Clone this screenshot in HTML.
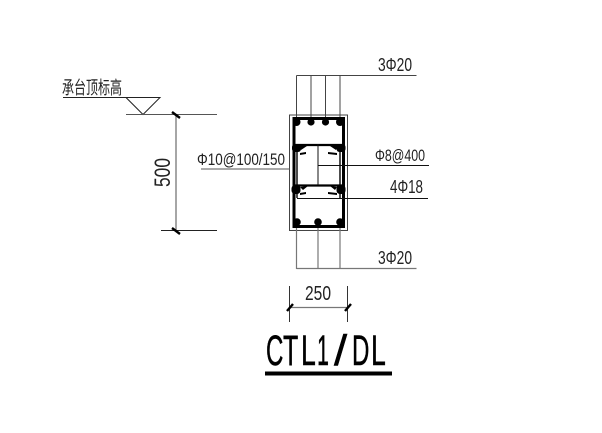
<!DOCTYPE html>
<html>
<head>
<meta charset="utf-8">
<style>
html,body{margin:0;padding:0;background:#fff;width:602px;height:433px;overflow:hidden}
svg{display:block}
text{font-family:"Liberation Sans","Noto Sans CJK SC",sans-serif;fill:#222}
</style>
</head>
<body>
<svg width="602" height="433" viewBox="0 0 602 433" xmlns="http://www.w3.org/2000/svg">
<rect width="602" height="433" fill="#fff"/>
<!-- top rebar leaders -->
<g stroke="#444" stroke-width="1" fill="none">
<path d="M296.5 75.5H416.5"/>
<path d="M296.5 75.5V118M311 75.5V118M325.5 75.5V118M340 75.5V118"/>
<rect x="289.5" y="115" width="58" height="115.5"/>
</g>
<!-- bottom rebar leaders -->
<path d="M296.5 227V269M318 227V269M340 227V269M296.5 268.5H416.5" stroke="#777" stroke-width="1.2" fill="none"/>
<!-- stirrup -->
<rect x="294" y="118.5" width="49.5" height="108" fill="none" stroke="#000" stroke-width="3"/>
<path d="M294 145H343M294 185.5H343" stroke="#000" stroke-width="2.2"/>
<path d="M297 146V198M340 146V198" stroke="#000" stroke-width="1.4"/>
<path d="M318 144V185" stroke="#111" stroke-width="1"/>
<!-- bars -->
<g fill="#000">
<circle cx="296.5" cy="122" r="4"/><circle cx="311" cy="122" r="3.6"/><circle cx="325.5" cy="122" r="3.6"/><circle cx="340" cy="122" r="4"/>
<rect x="292" y="144" width="9" height="8" rx="3"/><rect x="336.5" y="144" width="9" height="8" rx="3"/>
<rect x="291.5" y="185" width="9" height="9" rx="3.5"/><rect x="336.5" y="185" width="9" height="9" rx="3.5"/>
<circle cx="297" cy="222" r="3.8"/><circle cx="318" cy="222" r="3.8"/><circle cx="340" cy="222" r="3.8"/>
<!-- hooks -->
<path d="M299 146H307L301 150ZM300 153L306 152V154L300 155ZM338 146H330L336 150ZM337 153L328 152V154L337 155Z"/>
<path d="M300 187L308 186L303 190ZM300 193L306 192V194L300 195ZM337 187L330 186L335 190ZM337 193L328 192V194L337 195Z"/>
</g>
<!-- right leaders -->
<path d="M318 165.5H429M297 198.5H428" stroke="#111" stroke-width="1" fill="none"/>
<path d="M201 169H290" stroke="#555" stroke-width="1" fill="none"/>
<!-- elevation -->
<path d="M63 97.5H160L143 114.5L126 97.5" stroke="#222" stroke-width="1" fill="none"/>
<path d="M126 114.5H217" stroke="#555" stroke-width="1"/>
<path d="M161 230.5H217" stroke="#222" stroke-width="1"/>
<path d="M176 114V230" stroke="#777" stroke-width="1.3"/>
<path d="M172 112L180 118M172 228L180 234" stroke="#000" stroke-width="2.4"/>
<!-- 250 dim -->
<path d="M289.5 286V322M347.5 286V322" stroke="#333" stroke-width="1"/>
<path d="M289.5 307.5H347.5" stroke="#777" stroke-width="1.2"/>
<path d="M287 311L293 304M345 311L351 304" stroke="#000" stroke-width="2.4"/>
<!-- title bar -->
<rect x="265" y="371.5" width="127" height="4" fill="#000"/>
<!-- labels -->
<text x="378" y="71" font-size="18" textLength="34" lengthAdjust="spacingAndGlyphs">3Φ20</text>
<text x="375" y="161" font-size="17" textLength="50" lengthAdjust="spacingAndGlyphs">Φ8@400</text>
<text x="390" y="193" font-size="18" textLength="33" lengthAdjust="spacingAndGlyphs">4Φ18</text>
<text x="378" y="264" font-size="18" textLength="34" lengthAdjust="spacingAndGlyphs">3Φ20</text>
<text x="197" y="165" font-size="17" textLength="88" lengthAdjust="spacingAndGlyphs">Φ10@100/150</text>
<text x="62" y="94" font-size="18" textLength="60" lengthAdjust="spacingAndGlyphs">承台顶标高</text>
<text transform="translate(170,187) rotate(-90)" font-size="22" textLength="29" lengthAdjust="spacingAndGlyphs">500</text>
<text x="305" y="300" font-size="20" textLength="26" lengthAdjust="spacingAndGlyphs">250</text>
<!-- title: narrow glyphs, wide tracking -->
<g style="stroke:#000;stroke-width:.5">
<text transform="translate(266,365) scale(.56,1)" font-size="43" style="fill:#000">C</text>
<text transform="translate(283,365) scale(.58,1)" font-size="43" style="fill:#000">T</text>
<text transform="translate(301,365) scale(.62,1)" font-size="43" style="fill:#000">L</text>
<text transform="translate(317,365) scale(.5,1)" font-size="43" style="fill:#000">1</text>
<text transform="translate(334,365) scale(1.1,1)" font-size="43" style="fill:#000">/</text>
<text transform="translate(352,365) scale(.56,1)" font-size="43" style="fill:#000">D</text>
<text transform="translate(371,365) scale(.62,1)" font-size="43" style="fill:#000">L</text>
</g>
</svg>
</body>
</html>
